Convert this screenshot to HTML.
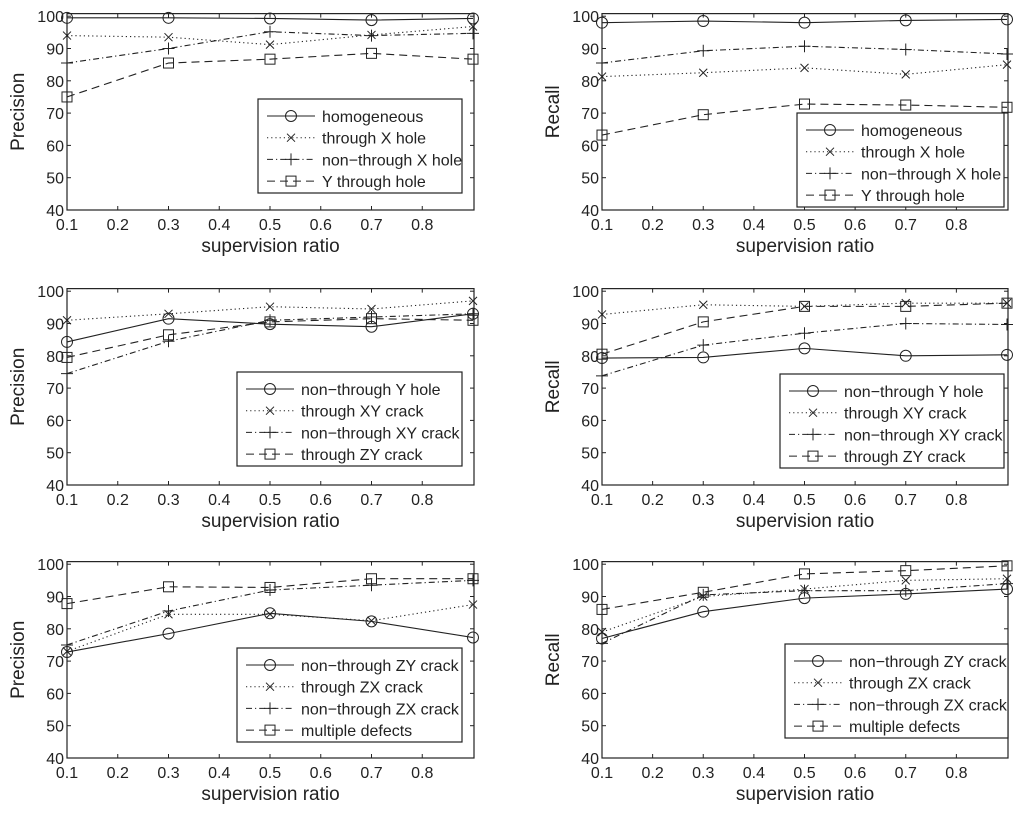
<!DOCTYPE html>
<html><head><meta charset="utf-8"><style>
body{margin:0;background:#fff;}
svg text{font-family:"Liberation Sans",sans-serif;fill:#222;}
</style></head><body>
<svg id="c" width="1024" height="814" xmlns="http://www.w3.org/2000/svg"></svg>
<script>
const xVals=[0.1,0.3,0.5,0.7,0.9];
const xTicks=[0.1,0.2,0.3,0.4,0.5,0.6,0.7,0.8];
const yTicks=[40,50,60,70,80,90,100];
const p1Names=["homogeneous","through X hole","non\u2212through X hole","Y through hole"];
const p1A=[99.5,99.5,99.3,98.8,99.3];
const p1B=[94,93.5,91.2,94.2,96.8];
const p1C=[85.5,90,95.2,94,94.7];
const p1D=[75,85.5,86.7,88.5,86.7];
const r1A=[98,98.5,98,98.7,99];
const r1B=[81.3,82.5,84,82,85];
const r1C=[85.5,89.3,90.7,89.7,88.3];
const r1D=[63.2,69.5,72.8,72.5,71.8];
const p2Names=["non\u2212through Y hole","through XY crack","non\u2212through XY crack","through ZY crack"];
const p2A=[84.3,91.5,89.8,89,93];
const p2B=[91,93,95.2,94.5,97];
const p2C=[74.5,84.5,91,92,93];
const p2D=[79.5,86.5,90.5,91.5,91];
const r2A=[79.3,79.5,82.3,80,80.3];
const r2B=[92.8,95.8,95.3,96.3,96.3];
const r2C=[73.8,83.3,87,90,89.7];
const r2D=[80.5,90.5,95.3,95.3,96.3];
const p3Names=["non\u2212through ZY crack","through ZX crack","non\u2212through ZX crack","multiple defects"];
const p3A=[72.8,78.5,84.8,82.3,77.3];
const p3B=[73,84.5,84.5,82.5,87.5];
const p3C=[75,85.5,92,93.5,95];
const p3D=[87.8,93,92.8,95.5,95.5];
const r3A=[77,85.3,89.5,90.8,92.3];
const r3B=[79,90,92.3,95,95.5];
const r3C=[75.5,90.5,91.8,91.8,94];
const r3D=[86,91.3,97,98,99.5];

const svg=document.getElementById('c');
const NS="http://www.w3.org/2000/svg";
const COL="#222";
function mk(tag,attrs,parent){const e=document.createElementNS(NS,tag);for(const k in attrs)e.setAttribute(k,attrs[k]);(parent||svg).appendChild(e);return e;}
const dashes=["none","1.2,3","6,3,1.2,3","8,5"];
const markers=["circle","x","plus","square"];
function marker(g,type,x,y){
  if(type==="circle")mk('circle',{cx:x,cy:y,r:5.5,fill:'none',stroke:COL,'stroke-width':1},g);
  else if(type==="x")mk('path',{d:`M${x-4},${y-4}L${x+4},${y+4}M${x-4},${y+4}L${x+4},${y-4}`,stroke:COL,'stroke-width':1},g);
  else if(type==="plus")mk('path',{d:`M${x-6},${y}L${x+6},${y}M${x},${y-6}L${x},${y+6}`,stroke:COL,'stroke-width':1},g);
  else mk('rect',{x:x-5,y:y-5,width:10,height:10,fill:'none',stroke:COL,'stroke-width':1},g);
}
function panel(id,x0,x1,yBase,yLabel,series,names,leg){
  const g=mk('g',{});
  
  
  const pxPer=3.23;
  const sx=v=>x0+(v-0.1)/0.8*(x1-x0-1);
  const sy=v=>yBase-(v-40)*pxPer;
  const top=sy(100.8);
  mk('rect',{x:x0,y:top,width:x1-x0,height:yBase-top,fill:'none',stroke:COL,'stroke-width':1.2},g);
  xTicks.forEach(t=>{const x=sx(t);
    mk('line',{x1:x,x2:x,y1:yBase,y2:yBase-4,stroke:COL},g);
    mk('line',{x1:x,x2:x,y1:top,y2:top+4,stroke:COL},g);
    const tx=mk('text',{x:x,y:yBase+20,'font-size':16,'text-anchor':'middle'},g);tx.textContent=t.toFixed(1);
    
    
  });
  yTicks.forEach(t=>{const y=sy(t);
    mk('line',{x1:x0,x2:x0+4,y1:y,y2:y,stroke:COL},g);
    mk('line',{x1:x1-4,x2:x1,y1:y,y2:y,stroke:COL},g);
    const tx=mk('text',{x:x0-3,y:y+6,'font-size':16,'text-anchor':'end'},g);tx.textContent=t;
    
    
  });
  const xl=mk('text',{x:(x0+x1)/2,y:yBase+42,'font-size':19,'text-anchor':'middle'},g);xl.textContent="supervision ratio";
  
  
  const yc=(top+yBase)/2;
  const yl=mk('text',{x:x0-43,y:yc,'font-size':19,'text-anchor':'middle',transform:`rotate(-90 ${x0-43} ${yc})`},g);yl.textContent=yLabel;
  
  
  series.forEach((s,i)=>{
    const sg=mk('g',{},g);
    
    
    const d=s.map((v,j)=>(j?'L':'M')+sx(xVals[j])+','+sy(v)).join('');
    mk('path',{d:d,fill:'none',stroke:COL,'stroke-width':1.1,'stroke-dasharray':dashes[i]},sg);
    s.forEach((v,j)=>marker(sg,markers[i],sx(xVals[j]),sy(v)));
  });
  const lg=mk('g',{},g);
  
  
  mk('rect',{x:leg[0],y:leg[1],width:leg[2],height:94,fill:'#fff',stroke:COL,'stroke-width':1.2},lg);
  names.forEach((n,i)=>{
    const y=leg[1]+17+i*21.7;
    mk('line',{x1:leg[0]+9,x2:leg[0]+57,y1:y,y2:y,stroke:COL,'stroke-dasharray':dashes[i]},lg);
    marker(lg,markers[i],leg[0]+33,y);
    const t=mk('text',{x:leg[0]+64,y:y+6,'font-size':16},lg);t.textContent=n;
    
    
  });
}
panel('precision-panel-1',67,474,210,'Precision',[p1A,p1B,p1C,p1D],p1Names,[258,99,204]);
panel('recall-panel-1',602,1008,210,'Recall',[r1A,r1B,r1C,r1D],p1Names,[797,113,207]);
panel('precision-panel-2',67,474,485,'Precision',[p2A,p2B,p2C,p2D],p2Names,[237,372,225]);
panel('recall-panel-2',602,1008,485,'Recall',[r2A,r2B,r2C,r2D],p2Names,[780,374,224]);
panel('precision-panel-3',67,474,758,'Precision',[p3A,p3B,p3C,p3D],p3Names,[237,648,225]);
panel('recall-panel-3',602,1008,758,'Recall',[r3A,r3B,r3C,r3D],p3Names,[785,644,223]);
</script>
</body></html>
